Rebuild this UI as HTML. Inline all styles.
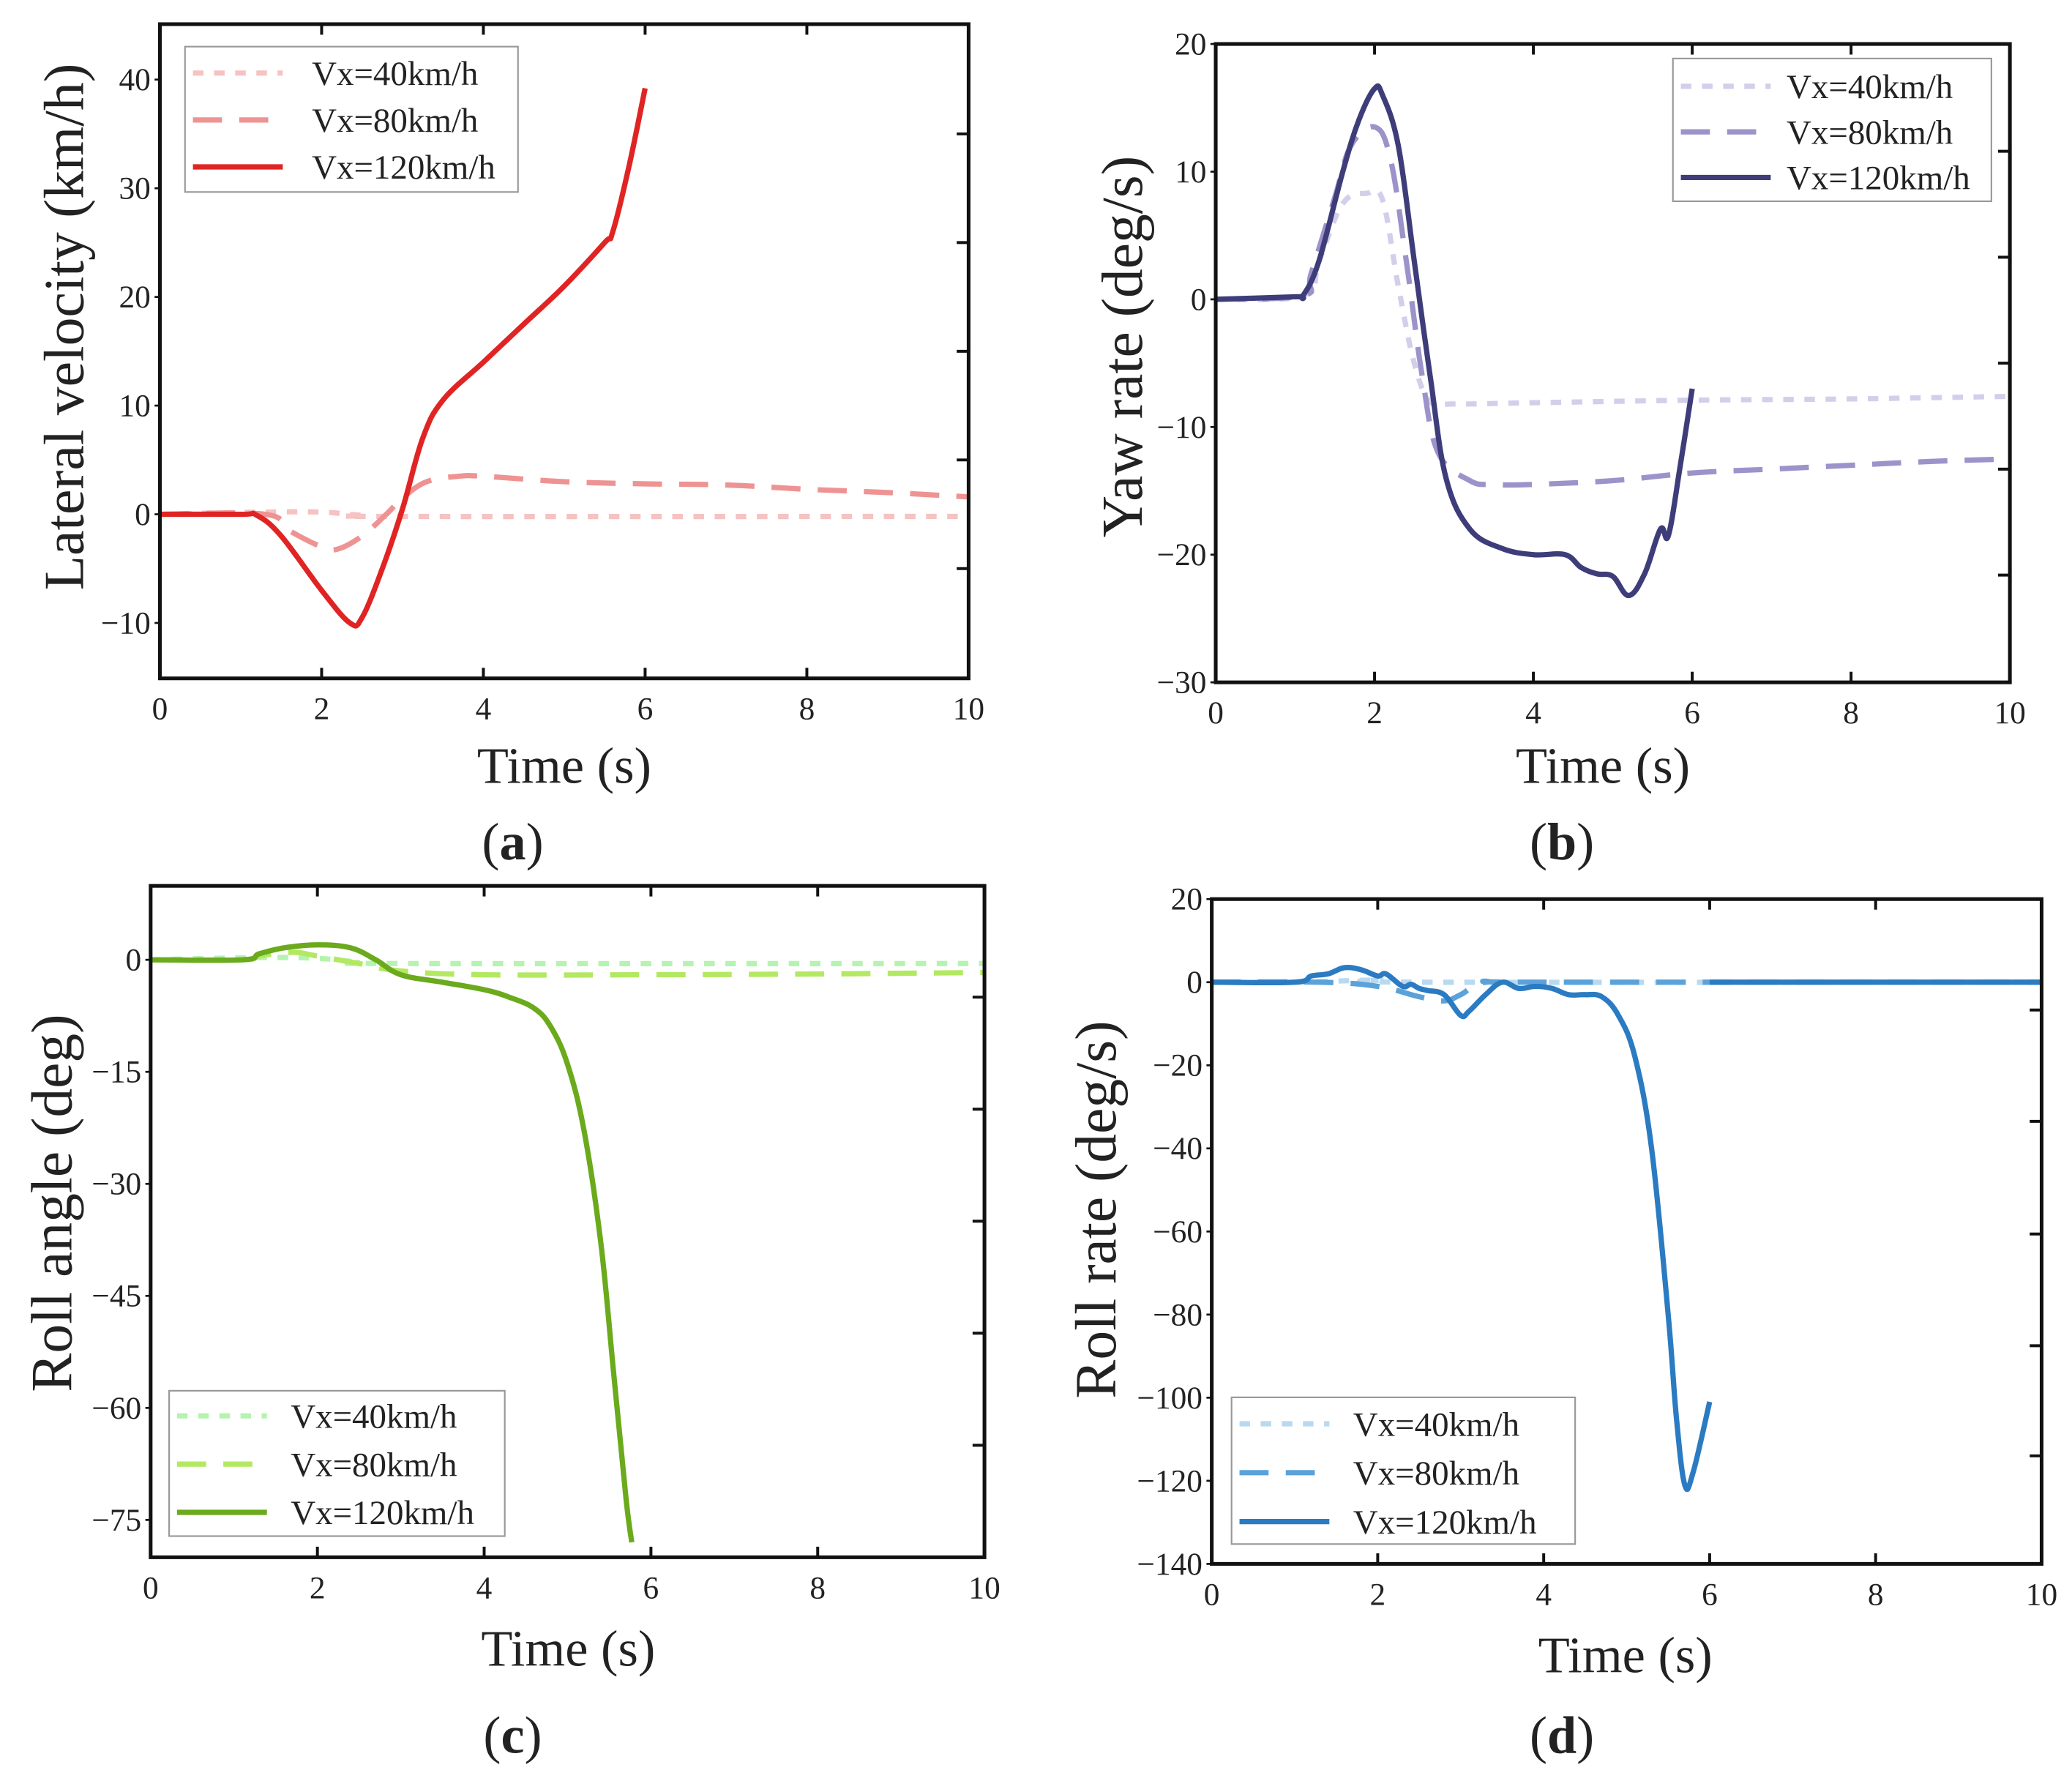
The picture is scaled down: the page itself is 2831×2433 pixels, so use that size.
<!DOCTYPE html>
<html><head><meta charset="utf-8"><style>
html,body{margin:0;padding:0;background:#fff;}
svg{display:block;}
text{font-family:"Liberation Serif",serif;fill:#222;}
</style></head><body>
<svg id="fig" width="2831" height="2433" viewBox="0 0 1568 1347" xmlns="http://www.w3.org/2000/svg"></svg>
<script>
// ---- Data ----
const timeTicks = [0,2,4,6,8,10];
const legendLabels = ["Vx=40km/h","Vx=80km/h","Vx=120km/h"];

const aTicks = [-10,0,10,20,30,40];
const aRight = [35,25,15,5,-5];
const a40t = [0,1.3,2,2.5,3,10];
const a40v = [0,0.2,0.2,-0.1,-0.2,-0.2];
const a80t = [0,1.3,1.6,2,2.2,2.5,2.8,3,3.3,3.7,4,5,6,7,8,9,10];
const a80v = [0,0,-1.5,-3,-3.2,-2,0,1.5,3,3.5,3.5,3,2.8,2.7,2.3,2,1.6];
const a120t = [0,1,1.2,1.5,2,2.35,2.5,2.75,3,3.25,3.5,4,4.5,5,5.5,5.6,5.8,6];
const a120v = [0,0,-0.1,-2,-7,-10,-9.5,-5,0.5,7,10.5,14,17.5,21,25,26,32,39.2];

const bTicks = [-30,-20,-10,0,10,20];
const bRight = [11.6,3.3,-5,-13.3,-21.6];
const b40t = [0,1.1,1.3,1.6,1.9,2.1,2.3,2.5,2.7,3,4,6,8,10];
const b40v = [0,0.3,3,7.5,8.3,7.8,1,-5,-8,-8.2,-8.1,-7.9,-7.8,-7.6];
const b80t = [0,1.1,1.2,1.5,1.7,2,2.2,2.4,2.6,2.8,3.2,3.5,4,5,6,7,8,9,10];
const b80v = [0,0.3,2,8,12,13.5,11,3,-6,-12,-14.2,-14.5,-14.5,-14.2,-13.6,-13.3,-13,-12.7,-12.5];
const b120t = [0,1,1.1,1.3,1.6,1.8,2,2.1,2.3,2.5,2.7,2.9,3.2,3.6,4,4.4,4.6,4.8,5,5.2,5.4,5.6,5.7,5.85,6];
const b120v = [0,0.2,0.3,3,10,14,16.5,16,12,3,-6,-14,-18,-19.5,-20,-20,-21,-21.5,-21.7,-23.2,-21.5,-18,-18.5,-13,-7];

const cTicks = [-75,-60,-45,-30,-15,0];
const cRight = [-5,-20,-35,-50,-65];
const c40t = [0,1.3,2,2.5,3,10];
const c40v = [0,0.3,0.2,-0.3,-0.5,-0.5];
const c80t = [0,1.1,1.3,1.7,2,2.5,3,4,6,8,10];
const c80v = [0,0,0.5,1,0.5,-0.5,-1.5,-2,-2,-1.9,-1.7];
const c120t = [0,1.1,1.3,1.6,2,2.4,2.7,3,3.5,4,4.3,4.6,4.8,5,5.2,5.4,5.55,5.7,5.77];
const c120v = [0,0,0.8,1.6,2,1.6,0,-2,-3,-4,-5,-6.5,-9,-14,-23,-38,-55,-72,-78];

const dTicks = [-140,-120,-100,-80,-60,-40,-20,0,20];
const dRight = [-6.7,-33.5,-60.6,-87.5,-114];
const d40t = [0,1,2,2.5,10];
const d40v = [0,0,0.5,0,0];
const d80t = [0,1.3,2,2.5,2.8,3,3.3,4,10];
const d80v = [0,0,-1,-3.5,-4.5,-3,0,0,0];
const d120t = [0,1,1.2,1.4,1.6,1.8,2,2.1,2.3,2.4,2.5,2.6,2.8,3,3.1,3.3,3.5,3.7,3.9,4.1,4.3,4.5,4.7,4.9,5.1,5.3,5.5,5.6,5.7,5.8,6];
const d120v = [0,0,1.5,2,3.5,3,1.5,2,-1,-0.5,-1.5,-2,-3,-8,-7,-3,0,-1.5,-1,-1.5,-3,-3,-3.5,-8,-18,-40,-80,-105,-121,-118,-101];
const d120tailT = [6,8,10];
const d120tailV = [0,0,0];

// ---- Rendering ----
const NS="http://www.w3.org/2000/svg";
const svg=document.getElementById('fig');
function el(tag,attrs,parent){const e=document.createElementNS(NS,tag);for(const k in attrs)e.setAttribute(k,attrs[k]);(parent||svg).appendChild(e);return e;}

function smoothPath(pts){
  if(pts.length<3)return pts.map((p,i)=>(i?'L':'M')+p[0].toFixed(2)+','+p[1].toFixed(2)).join(' ');
  let d='M'+pts[0][0].toFixed(2)+','+pts[0][1].toFixed(2);
  for(let i=0;i<pts.length-1;i++){
    const p0=pts[i-1]||pts[i],p1=pts[i],p2=pts[i+1],p3=pts[i+2]||p2;
    const k=0.18;
    const c1=[p1[0]+(p2[0]-p0[0])*k,p1[1]+(p2[1]-p0[1])*k];
    const c2=[p2[0]-(p3[0]-p1[0])*k,p2[1]-(p3[1]-p1[1])*k];
    d+=` C${c1[0].toFixed(2)},${c1[1].toFixed(2)} ${c2[0].toFixed(2)},${c2[1].toFixed(2)} ${p2[0].toFixed(2)},${p2[1].toFixed(2)}`;
  }
  return d;
}

function panel(cfg){
  const g=el('g',{});
  
  
  const L=cfg.box[0],R=cfg.box[1],T=cfg.box[2],B=cfg.box[3];
  const sx=t=>L+(t-0)/10*(R-L);
  const sy=v=>T+(cfg.ymax-v)/(cfg.ymax-cfg.ymin)*(B-T);
  cfg.series.forEach(s=>{
    const pts=s.t.map((t,i)=>[sx(t),sy(s.v[i])]);
    const p=el('path',{d:smoothPath(pts),fill:'none',stroke:s.color,'stroke-width':s.w,'stroke-dasharray':s.dash||'none','stroke-linejoin':'round'},g);
    
    
  });
  const f=el('rect',{x:L,y:T,width:R-L,height:B-T,fill:'none',stroke:'#111','stroke-width':2.8},g);
  
  
  timeTicks.forEach(t=>{
    const x=sx(t);
    if(t>0&&t<10){el('line',{x1:x,y1:B,x2:x,y2:B-8,stroke:'#111','stroke-width':2.2},g);el('line',{x1:x,y1:T,x2:x,y2:T+8,stroke:'#111','stroke-width':2.2},g);}
    const tx=el('text',{x:x,y:B+31,'font-size':24,'text-anchor':'middle'},g);
    tx.textContent=t;
    
    
  });
  cfg.yticks.forEach(v=>{
    const y=sy(v);
    el('line',{x1:L,y1:y,x2:L-4,y2:y,stroke:'#111','stroke-width':1.5},g);
    const tx=el('text',{x:L-7,y:y+8,'font-size':24,'text-anchor':'end'},g);
    tx.textContent=(v<0?'\u2212'+(-v):v);
    
    
  });
  cfg.right.forEach(v=>{const y=sy(v);el('line',{x1:R,y1:y,x2:R-9,y2:y,stroke:'#111','stroke-width':2.2},g);});
  const xt=el('text',{x:cfg.xt[0],y:cfg.xt[1],'font-size':39,'text-anchor':'middle'},g);
  xt.textContent=cfg.xlabel;
  
  
  const yt=el('text',{x:0,y:0,'font-size':cfg.ytSize||42,'text-anchor':'middle',transform:`translate(${cfg.yt[0]},${cfg.yt[1]}) rotate(-90)`},g);
  yt.textContent=cfg.ylabel;
  
  
  const cap=el('text',{x:cfg.cap[0],y:cfg.cap[1],'font-size':40,'text-anchor':'middle'},g);
  cap.innerHTML='(<tspan font-weight="bold">'+cfg.letter+'</tspan>)';
  
  
  const lg=el('g',{},g);
  
  
  const lb=cfg.legend;
  el('rect',{x:lb[0],y:lb[1],width:lb[2],height:lb[3],fill:'#fff',stroke:'#999','stroke-width':1.2},lg);
  cfg.series.slice(0,3).forEach((s,i)=>{
    const y=lb[4]+i*lb[5];
    el('line',{x1:lb[0]+6,y1:y,x2:lb[0]+74,y2:y,stroke:s.color,'stroke-width':s.w,'stroke-dasharray':s.dash||'none'},lg);
    const tx=el('text',{x:lb[6],y:y+9,'font-size':26},lg);
    tx.textContent=legendLabels[i];
    
    
  });
}

const D40='8,8', D80='22,13';
panel({name:'panel-a-lateral-velocity',letter:'a',box:[121,733,18,513],ymin:-15.1,ymax:45.1,yticks:aTicks,right:aRight,
  xlabel:'Time (s)',xt:[427,592],ylabel:'Lateral velocity (km/h)',yt:[63,247],ytSize:43,cap:[388,650],
  legend:[140,35,252,110,55,35.5,236],
  series:[{name:'series-a-40',t:a40t,v:a40v,color:'#f6c2c2',w:4,dash:D40},
          {name:'series-a-80',t:a80t,v:a80v,color:'#ee9393',w:4,dash:D80},
          {name:'series-a-120',t:a120t,v:a120v,color:'#e02424',w:4}]});
panel({name:'panel-b-yaw-rate',letter:'b',box:[920,1521,33,516],ymin:-30,ymax:20,yticks:bTicks,right:bRight,
  xlabel:'Time (s)',xt:[1213,592],ylabel:'Yaw rate (deg/s)',yt:[864,262],ytSize:44,cap:[1182,650],
  legend:[1266,44,241,108,65,34.5,1352],
  series:[{name:'series-b-40',t:b40t,v:b40v,color:'#d3cfea',w:4,dash:D40},
          {name:'series-b-80',t:b80t,v:b80v,color:'#9c93cb',w:4,dash:D80},
          {name:'series-b-120',t:b120t,v:b120v,color:'#3e3d7a',w:4}]});
panel({name:'panel-c-roll-angle',letter:'c',box:[114,745,670,1178],ymin:-80,ymax:9.9,yticks:cTicks,right:cRight,
  xlabel:'Time  (s)',xt:[430,1260],ylabel:'Roll angle (deg)',yt:[54,910],ytSize:44,cap:[388,1326],
  legend:[128,1052,254,110,1071,36.5,220],
  series:[{name:'series-c-40',t:c40t,v:c40v,color:'#b5f3b0',w:4,dash:D40},
          {name:'series-c-80',t:c80t,v:c80v,color:'#b3e862',w:4,dash:D80},
          {name:'series-c-120',t:c120t,v:c120v,color:'#6aaa1c',w:4}]});
panel({name:'panel-d-roll-rate',letter:'d',box:[917,1545,680,1183],ymin:-140,ymax:20,yticks:dTicks,right:dRight,
  xlabel:'Time (s)',xt:[1230,1265],ylabel:'Roll rate (deg/s)',yt:[844,915],ytSize:44,cap:[1182,1326],
  legend:[932,1057,260,111,1077,37,1024],
  series:[{name:'series-d-40',t:d40t,v:d40v,color:'#b9d9f1',w:4,dash:D40},
          {name:'series-d-80',t:d80t,v:d80v,color:'#5ba2da',w:4,dash:D80},
          {name:'series-d-120',t:d120t,v:d120v,color:'#2b7bc2',w:4},
          {name:'series-d-120-tail',t:d120tailT,v:d120tailV,color:'#2b7bc2',w:4}]});
</script>
</body></html>
